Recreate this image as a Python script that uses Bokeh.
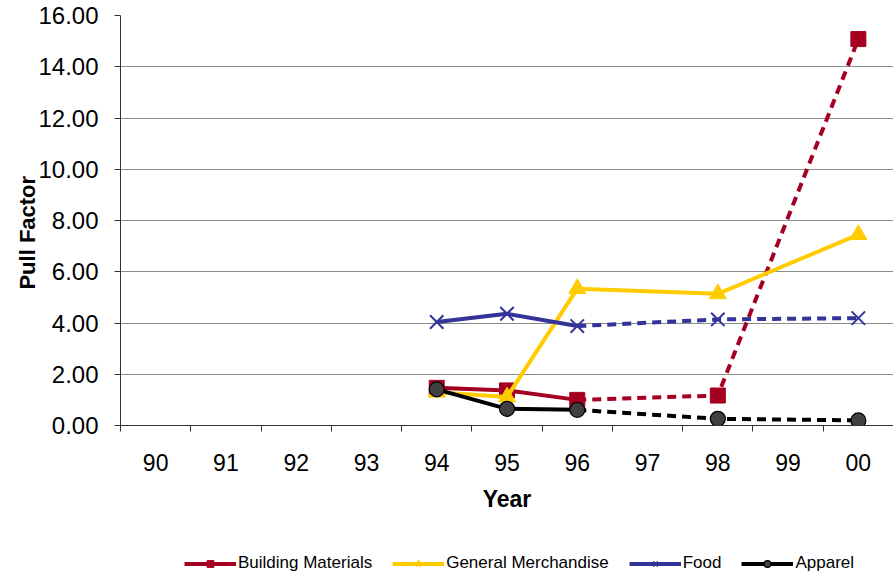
from bokeh.plotting import figure
from bokeh.layouts import column
from bokeh.models import (FixedTicker, Range1d, Legend, LegendItem)
from bokeh.embed import file_html
from bokeh.resources import INLINE

categories = ["90", "91", "92", "93", "94", "95", "96", "97", "98", "99", "00"]
data_years = ["94", "95", "96", "98", "00"]
building_materials = [1.47, 1.37, 1.00, 1.17, 15.08]
general_merchandise = [1.30, 1.11, 5.34, 5.14, 7.45]
food = [4.04, 4.36, 3.88, 4.14, 4.19]
apparel = [1.41, 0.65, 0.61, 0.26, 0.20]
y_ticks = [0, 2, 4, 6, 8, 10, 12, 14, 16]

FONT = "Liberation Sans"

series = [
    # name, values, color, marker, marker size, dashed after this year
    ("Building Materials", building_materials, "#A50021", "square", 15, "96"),
    ("General Merchandise", general_merchandise, "#FFCC00", "triangle", 17, None),
    ("Food", food, "#333399", "x", 19, "96"),
    ("Apparel", apparel, "#000000", "circle", 15, "96"),
]

p = figure(width=893, height=540, output_backend="svg", toolbar_location=None,
           x_range=Range1d(0, len(categories)), y_range=Range1d(0, 16))
p.min_border_left = 120
p.min_border_right = 0
p.min_border_top = 15
p.min_border_bottom = 115
p.outline_line_color = None
p.background_fill_color = "white"
p.border_fill_color = "white"

# x axis: labels at category centres, tick marks at category boundaries
centres = [i + 0.5 for i in range(len(categories))]
p.xaxis.ticker = FixedTicker(ticks=centres, minor_ticks=list(range(len(categories) + 1)))
p.xaxis.major_label_overrides = {c: lab for c, lab in zip(centres, categories)}
p.xaxis.major_tick_line_color = None
p.xaxis.minor_tick_in = 0
p.xaxis.minor_tick_out = 6
p.xaxis.minor_tick_line_color = "#333333"
p.xaxis.axis_line_color = "#333333"
p.xaxis.major_label_text_font = FONT
p.xaxis.major_label_text_font_size = "23px"
p.xaxis.major_label_text_color = "black"
p.xaxis.major_label_standoff = 22
p.xaxis.axis_label = "Year"
p.xaxis.axis_label_text_font = FONT
p.xaxis.axis_label_text_font_size = "23px"
p.xaxis.axis_label_text_font_style = "bold"
p.xaxis.axis_label_text_color = "black"
p.xaxis.axis_label_standoff = 12
p.xgrid.grid_line_color = None

p.yaxis.ticker = FixedTicker(ticks=y_ticks)
p.yaxis.major_label_overrides = {t: f"{t:.2f}" for t in y_ticks}
p.yaxis.major_tick_in = 0
p.yaxis.major_tick_out = 6
p.yaxis.minor_tick_line_color = None
p.yaxis.major_tick_line_color = "#333333"
p.yaxis.axis_line_color = "#333333"
p.yaxis.major_label_text_font = FONT
p.yaxis.major_label_text_font_size = "24px"
p.yaxis.major_label_text_color = "black"
p.yaxis.major_label_standoff = 16
p.yaxis.axis_label = "Pull Factor\u00a0\u00a0\u00a0\u00a0"
p.yaxis.axis_label_text_font = FONT
p.yaxis.axis_label_text_font_size = "22px"
p.yaxis.axis_label_text_font_style = "bold"
p.yaxis.axis_label_text_color = "black"
p.yaxis.axis_label_standoff = -5
p.ygrid.grid_line_color = "#8c8c8c"
p.ygrid.grid_line_width = 1.2

# legend strip below the chart (its own renderers sit outside its view)
lg = figure(width=893, height=33, output_backend="svg", toolbar_location=None,
            x_range=Range1d(-200, -199), y_range=Range1d(0, 16))
lg.axis.visible = False
lg.grid.visible = False
lg.outline_line_color = None
lg.min_border_left = 0
lg.min_border_right = 0
lg.min_border_top = 0
lg.min_border_bottom = 0


def draw_series(fig, name, vals, color, marker, size, dash_after):
    xs = [categories.index(y) + 0.5 for y in data_years]
    if dash_after is None:
        solid_x, solid_y = xs, vals
        dash_x, dash_y = [], []
    else:
        k = data_years.index(dash_after)
        solid_x, solid_y = xs[:k + 1], vals[:k + 1]
        dash_x, dash_y = xs[k:], vals[k:]
    r_line = fig.line(solid_x, solid_y, line_color=color, line_width=4)
    if dash_x:
        fig.line(dash_x, dash_y, line_color=color, line_width=4, line_dash="9 6")
    if marker == "circle":
        r_pt = fig.scatter(xs, vals, marker=marker, size=size, fill_color="#404040",
                           line_color="black", line_width=1.2)
    elif marker == "x":
        r_pt = fig.scatter(xs, vals, marker=marker, size=size, line_color=color,
                           line_width=2)
    else:
        r_pt = fig.scatter(xs, vals, marker=marker, size=size, fill_color=color,
                           line_color=color)
    return r_line, r_pt


items = []
for name, vals, color, marker, size, dash_after in series:
    draw_series(p, name, vals, color, marker, size, dash_after)
    r_line, r_pt = draw_series(lg, name, vals, color, marker, size, dash_after)
    items.append(LegendItem(label=name, renderers=[r_line, r_pt]))

legend = Legend(items=items, orientation="horizontal", location=(64, 0),
                label_text_font=FONT, label_text_font_size="17px",
                label_text_color="black", glyph_width=52, glyph_height=17,
                label_standoff=2, spacing=20, padding=0, margin=0,
                border_line_color=None, background_fill_alpha=0,
                label_height=17)
lg.add_layout(legend, "center")

layout = column(p, lg, spacing=0)
open("out.html", "w").write(file_html(layout, INLINE))
